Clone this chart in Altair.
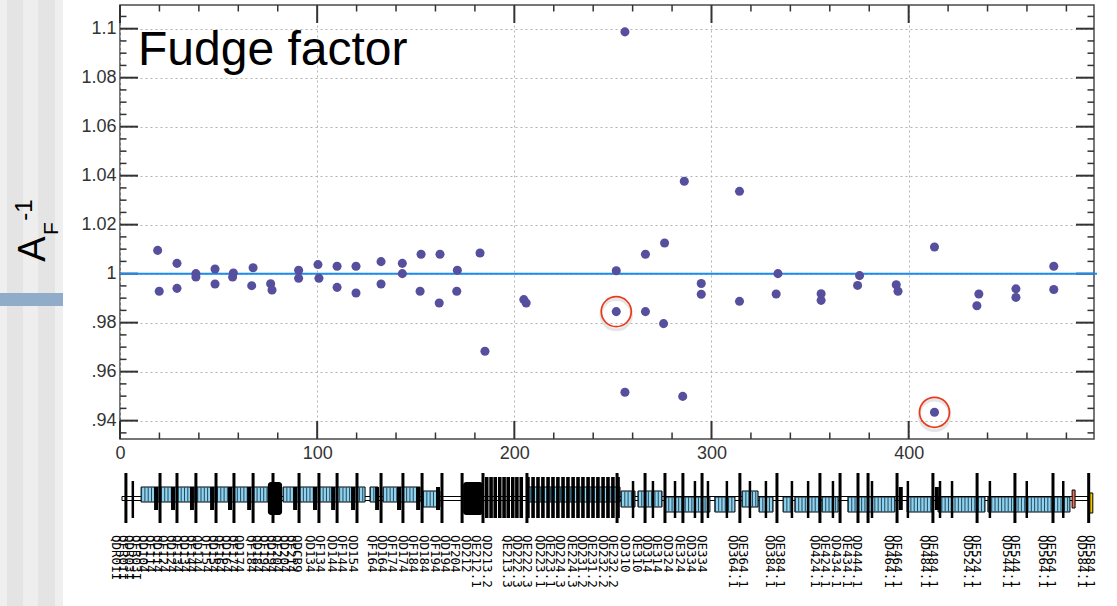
import altair as alt
import pandas as pd

# ---------------- data ----------------
pt_s = [19.1, 19.9, 28.9, 28.9, 38.5, 38.5, 48.2, 48.2, 57.5, 57.1, 67.5, 66.8,
        76.4, 77.1, 90.6, 90.6, 100.4, 100.9, 110.1, 110.1, 119.7, 119.7, 132.4, 132.4,
        143.2, 143.2, 152.7, 152.2, 162.3, 161.9, 171.1, 170.8, 182.6, 185.1,
        204.8, 206.0, 251.7, 251.7, 256.1, 256.1, 266.5, 266.5, 276.2, 275.7, 285.4, 286.2,
        294.8, 294.8, 314.2, 314.2, 333.7, 332.8, 355.6, 355.6, 375.1, 374.1, 393.7, 394.6,
        413.1, 413.1, 435.6, 434.6, 454.4, 454.4, 473.6, 473.6]
pt_v = [1.0095, 0.9928, 1.0042, 0.9940, 1.0000, 0.9986, 1.0019, 0.9958, 1.0003, 0.9986, 1.0024, 0.9951,
        0.9959, 0.9933, 1.0014, 0.9981, 1.0037, 0.9981, 1.0030, 0.9944, 1.0030, 0.9921, 1.0049, 0.9958,
        1.0042, 1.0000, 1.0079, 0.9928, 1.0079, 0.9880, 1.0014, 0.9928, 1.0084, 0.9683,
        0.9894, 0.9880, 1.0012, 0.9845, 1.0987, 0.9516, 1.0079, 0.9845, 1.0125, 0.9796, 0.9499, 1.0377,
        0.9960, 0.9916, 1.0336, 0.9887, 1.0000, 0.9917, 0.9918, 0.9891, 0.9992, 0.9952, 0.9955, 0.9928,
        1.0109, 0.9434, 0.9917, 0.9869, 0.9938, 0.9903, 1.0030, 0.9935]

circled_s = [251.7, 413.1]
circled_v = [0.9845, 0.9434]

ref_value = [1.0]
title_text = ["Fudge factor"]

x_major = [0, 100, 200, 300, 400]
x_minor = [20, 40, 60, 80, 120, 140, 160, 180, 220, 240, 260, 280, 320, 340, 360, 380,
           420, 440, 460, 480]
y_major = [0.94, 0.96, 0.98, 1.0, 1.02, 1.04, 1.06, 1.08, 1.1]
y_minor = [0.935, 0.945, 0.95, 0.955, 0.965, 0.97, 0.975, 0.985, 0.99, 0.995,
           1.005, 1.01, 1.015, 1.025, 1.03, 1.035, 1.045, 1.05, 1.055, 1.065, 1.07,
           1.075, 1.085, 1.09, 1.095, 1.105]

# beam-line lattice (positions in the same units as the x axis)
pipe_s0 = [1.0]
pipe_s1 = [491.0]
dip_s0 = [10.7, 82.7, 126.8, 133.4, 153.7, 206.4, 254.1, 262.7, 276.4, 301.7, 315.5, 324.1,
          336.3, 342.3, 356.0, 369.2, 399.2, 414.9, 440.2]
dip_s1 = [75.1, 124.3, 130.9, 152.2, 162.3, 253.6, 261.2, 274.9, 299.2, 311.9, 323.6, 331.2,
          340.8, 355.0, 364.2, 393.0, 411.8, 438.7, 481.8]
dip_lvl = ["hi", "hi", "hi", "hi", "mid", "hi", "mid", "mid", "lo", "lo", "mid", "lo",
           "lo", "lo", "lo", "lo", "lo", "lo", "lo"]
quad_s = [3.0, 20.3, 28.9, 38.5, 48.7, 57.8, 67.5, 77.6, 90.8, 100.9, 110.1, 120.2, 132.4,
          143.5, 153.2, 163.3, 173.5, 184.1, 206.4, 252.1, 266.3, 276.4, 285.5, 295.2, 314.4,
          333.2, 355.0, 365.2, 374.3, 379.4, 394.1, 412.3, 434.7, 453.9, 473.2, 491.3]
sext_s = [18.3, 26.9, 36.5, 46.7, 55.8, 65.5, 88.8, 98.9, 108.1, 118.2, 130.4, 141.5,
          151.2, 161.3, 396.0, 414.3]
corr_s = [6.5, 260.2, 270.3, 281.5, 291.6, 298.2, 307.8, 319.5, 327.6, 340.8, 349.0,
          361.6, 381.4, 399.6, 415.9, 422.0, 441.2, 459.9, 478.4]
dense_s = [186.0, 188.2, 190.3, 192.6, 194.8, 196.9, 199.2, 201.3, 203.5, 206.9, 209.5,
           212.0, 214.5, 217.1, 219.6, 222.1, 224.7, 227.2, 229.8, 232.3, 234.8, 237.4,
           239.9, 242.4, 245.0, 247.5, 250.0, 252.6]
block_s0 = [75.0, 174.0]
block_s1 = [82.2, 184.1]
red_s0, red_s1 = [482.9], [484.4]
yel_s0, yel_s1 = [491.9], [493.4]

label_s = [-2.0, 1.5, 4.6, 8.1, 11.7,
           15.2, 18.8, 21.8, 25.9, 28.9, 32.5, 36.0, 39.1,
           43.6, 47.2, 50.2, 53.8, 57.3, 60.4,
           66.4, 69.5, 73.0, 76.6, 79.6, 83.2, 86.7, 89.8,
           96.4, 101.4, 107.5, 112.6, 118.2,
           127.8, 132.9, 138.0, 143.5, 148.6, 154.2, 159.8, 164.8, 169.9, 175.5, 180.6, 186.1,
           196.3, 201.3, 206.4,
           213.0, 218.1, 223.2, 229.2, 234.3, 239.4, 245.0, 250.0, 256.1, 262.2,
           267.3, 272.4, 277.9, 284.0, 289.6, 295.2,
           310.9, 316.0, 329.7, 334.7,
           352.5, 357.6, 363.2, 368.7, 373.8,
           390.0, 394.1, 408.3, 412.3, 430.1, 434.1, 449.9, 453.9, 468.1, 472.2, 487.9, 491.9]
label_txt = ["QDR01I", "QFR01I", "QDR03I", "QFR03I", "QD104",
             "QF114", "QD114", "QF124", "QD124", "QF134", "QD134", "QF144", "QD144",
             "QF154", "QD154", "QF164", "QD164", "QF174", "QD174",
             "QF184", "QD184", "QF194", "QD194", "QF204", "QD204", "QF214", "QDCB9",
             "QD134", "QF134", "QD144", "QF144", "QD154",
             "QF164", "QD164", "QF174", "QD174", "QF184", "QD184", "QF194", "QD194",
             "QF204", "QD212", "QE212.1", "QD213.2",
             "QE213.3", "QD222.3", "QE222.3",
             "QD223.1", "QE223.1", "QD224.3", "QE224.3", "QD231.2", "QE231.2",
             "QD232.2", "QE232.2", "QD310", "QE310",
             "QD314", "QE314", "QD324", "QE324", "QD334", "QE334",
             "QD364.1", "QE364.1", "QD384.1", "QE384.1",
             "QD424.1", "QE424.1", "QD434.1", "QE434.1", "QD444.1",
             "QD464.1", "QE464.1", "QD484.1", "QE484.1", "QD524.1", "QE524.1",
             "QD544.1", "QE544.1", "QD564.1", "QE564.1", "QD584.1", "QE584.1"]

# ---------------- layout ----------------
W, H = 974, 434
xs = alt.Scale(domain=[0, 494], nice=False, zero=False)
ys = alt.Scale(domain=[0.9325, 1.10967], nice=False, zero=False)
xaxis = alt.Axis(values=x_major, title=None, ticks=False, domain=False, grid=True,
                 labelFlush=False, labelPadding=5, labelFontSize=18, labelColor="#333",
                 labelFont="Liberation Sans", gridColor="#b3b3b3", gridDash=[2, 3],
                 gridWidth=1)
yaxis = alt.Axis(values=y_major, title=None, ticks=False, domain=False, grid=True,
                 labelPadding=4, labelFontSize=18, labelColor="#333", labelFont="Liberation Sans",
                 gridColor="#b3b3b3", gridDash=[2, 3], gridWidth=1,
                 labelExpr="datum.value < 1 ? substring(format(datum.value, '.2f'), 1) : format(datum.value, '.2~f')")


def X(f="s"):
    return alt.X(f, type="quantitative", scale=xs, axis=xaxis)


def Y(f="v"):
    return alt.Y(f, type="quantitative", scale=ys, axis=yaxis)


one = pd.DataFrame({"k": [0]})
layers = []

# left slide decoration
for x0, x1, col in [(-120, -113, "#efefef"), (-113, -97, "#e4e4e4"), (-97, -82, "#eeeeee"),
                    (-82, -65, "#e4e4e4"), (-65, -57, "#efefef")]:
    layers.append(alt.Chart(one).mark_rect(color=col).encode(
        x=alt.value(x0), x2=alt.value(x1), y=alt.value(-5), y2=alt.value(601)))
layers.append(alt.Chart(one).mark_rect(color="#91acc8").encode(
    x=alt.value(-120), x2=alt.value(-57), y=alt.value(288), y2=alt.value(301)))

# ticks (inward, all four sides)
xmaj = pd.DataFrame({"s": x_major})
xmin = pd.DataFrame({"s": x_minor})
ymaj = pd.DataFrame({"v": y_major})
ymin = pd.DataFrame({"v": y_minor})
tk = dict(color="#333")
layers += [
    alt.Chart(xmaj).mark_rule(strokeWidth=2, **tk).encode(x=X(), y=alt.value(H), y2=alt.value(H - 18)),
    alt.Chart(xmaj).mark_rule(strokeWidth=2, **tk).encode(x=X(), y=alt.value(0), y2=alt.value(18)),
    alt.Chart(xmin).mark_rule(strokeWidth=1.5, **tk).encode(x=X(), y=alt.value(H), y2=alt.value(H - 6.5)),
    alt.Chart(xmin).mark_rule(strokeWidth=1.5, **tk).encode(x=X(), y=alt.value(0), y2=alt.value(6.5)),
    alt.Chart(ymaj).mark_rule(strokeWidth=2, **tk).encode(y=Y(), x=alt.value(0), x2=alt.value(18)),
    alt.Chart(ymaj).mark_rule(strokeWidth=2, **tk).encode(y=Y(), x=alt.value(W), x2=alt.value(W - 18)),
    alt.Chart(ymin).mark_rule(strokeWidth=1.5, **tk).encode(y=Y(), x=alt.value(0), x2=alt.value(6.5)),
    alt.Chart(ymin).mark_rule(strokeWidth=1.5, **tk).encode(y=Y(), x=alt.value(W), x2=alt.value(W - 6.5)),
]

# lattice diagram below the plot
pipe = pd.DataFrame({"s": pipe_s0, "s2": pipe_s1})
layers.append(alt.Chart(pipe).mark_rect(fill="white", stroke="black", strokeWidth=1).encode(
    x=X(), x2="s2", y=alt.value(491.5), y2=alt.value(495.5)))

dips = pd.DataFrame({"s": dip_s0, "s2": dip_s1, "lvl": dip_lvl})
levels = {"hi": (482, 497), "mid": (486, 502), "lo": (492, 507)}
for lv, (y0, y1) in levels.items():
    base = alt.Chart(dips).transform_filter(alt.datum.lvl == lv)
    layers.append(base.mark_rect(fill="#8fd3f0", stroke="black", strokeWidth=1).encode(
        x=X(), x2="s2", y=alt.value(y0), y2=alt.value(y1)))
    layers.append(base.mark_rule(color="#14303f", strokeWidth=y1 - y0 - 1, strokeDash=[1, 2.3],
                                 strokeCap="butt", opacity=0.85).encode(
        x=X(), x2="s2", y=alt.value((y0 + y1) / 2)))

blocks = pd.DataFrame({"s": block_s0, "s2": block_s1})
layers.append(alt.Chart(blocks).mark_rect(color="black", cornerRadius=3).encode(
    x=X(), x2="s2", y=alt.value(477), y2=alt.value(510)))
layers.append(alt.Chart(pd.DataFrame({"s": dense_s})).mark_rule(color="black", strokeWidth=3.6).encode(
    x=X(), y=alt.value(472), y2=alt.value(513)))
layers.append(alt.Chart(pd.DataFrame({"s": corr_s})).mark_rule(color="black", strokeWidth=2.5).encode(
    x=X(), y=alt.value(476), y2=alt.value(513)))
layers.append(alt.Chart(pd.DataFrame({"s": sext_s})).mark_rule(color="black", strokeWidth=4).encode(
    x=X(), y=alt.value(482), y2=alt.value(505)))
layers.append(alt.Chart(pd.DataFrame({"s": quad_s})).mark_rule(color="black", strokeWidth=3).encode(
    x=X(), y=alt.value(468), y2=alt.value(518)))
layers.append(alt.Chart(pd.DataFrame({"s": red_s0, "s2": red_s1})).mark_rect(
    fill="#e8735a", stroke="black", strokeWidth=1).encode(x=X(), x2="s2", y=alt.value(485), y2=alt.value(503)))
layers.append(alt.Chart(pd.DataFrame({"s": yel_s0, "s2": yel_s1})).mark_rect(
    fill="#f2c500", stroke="black", strokeWidth=1).encode(x=X(), x2="s2", y=alt.value(488), y2=alt.value(508)))

labels = pd.DataFrame({"s": label_s, "t": label_txt})
layers.append(alt.Chart(labels).mark_text(angle=90, align="left", baseline="middle",
                                          font="DejaVu Sans Mono", fontSize=12.5, color="black").encode(
    x=X(), y=alt.value(530), text="t:N"))

# reference line, points, highlight circles
layers.append(alt.Chart(pd.DataFrame({"v": ref_value})).mark_rule(color="#1c8cf0", strokeWidth=2).encode(
    y=Y(), x=alt.value(0), x2=alt.value(W + 3)))
pts = pd.DataFrame({"s": pt_s, "v": pt_v})
layers.append(alt.Chart(pts).mark_circle(size=82, color="#564f9d", opacity=1).encode(x=X(), y=Y()))
circ = pd.DataFrame({"s": circled_s, "v": circled_v})
layers.append(alt.Chart(circ).mark_point(shape="circle", filled=False, size=930, stroke="#9a9a9a",
                                         strokeWidth=3, opacity=0.25).encode(
    x=X(), y=Y(), yOffset=alt.value(3)))
layers.append(alt.Chart(circ).mark_point(shape="circle", filled=False, size=900, stroke="#ea3a1c",
                                         strokeWidth=1.7, opacity=1).encode(x=X(), y=Y()))

# title inside plot
layers.append(alt.Chart(pd.DataFrame({"t": title_text})).mark_text(
    align="left", baseline="alphabetic", font="Liberation Sans", fontSize=48, color="black").encode(
    x=alt.value(18), y=alt.value(60), text="t:N"))

# y-axis title  A_F^-1 (rotated)
ylab = [("A", 38, -75, 244), ("F", 21, -62, 223.5), ("-1", 24, -88, 205)]
for txt, fs, xv, yv in ylab:
    layers.append(alt.Chart(pd.DataFrame({"t": [txt]})).mark_text(
        angle=270, align="center", baseline="alphabetic", font="Liberation Sans", fontSize=fs,
        color="black").encode(x=alt.value(xv), y=alt.value(yv), text="t:N"))

chart = alt.layer(*layers).properties(
    width=W, height=H,
    autosize=alt.AutoSizeParams(type="none"),
    padding={"left": 120, "top": 5, "right": 23, "bottom": 167},
    background="white",
).configure_view(stroke="#4a4a4a", strokeWidth=1.5)

chart.save("out.html", embed_options={"renderer": "svg", "actions": False})
